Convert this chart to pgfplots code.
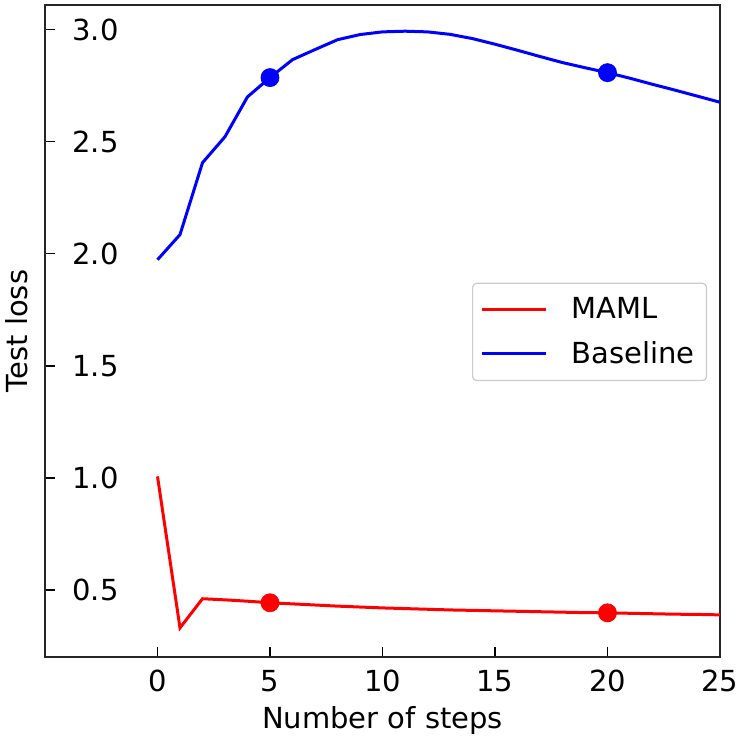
\documentclass[border=0pt]{standalone}
\usepackage{pgfplots}
\pgfplotsset{compat=1.18}
\usetikzlibrary{calc}
\usepackage{fontspec}
\setmainfont{DejaVu Sans}
\newcommand\f{\fontsize{14.5}{17}\selectfont}
\begin{document}
\begin{tikzpicture}
\begin{axis}[
  name=ax,
  scale only axis,
  width=337.5pt, height=326pt,
  xmin=-5, xmax=25, ymin=0.2, ymax=3.11,
  xtick={0,5,10,15,20,25},
  ytick={0.5,1.0,1.5,2.0,2.5,3.0},
  yticklabel style={/pgf/number format/fixed, /pgf/number format/fixed zerofill, /pgf/number format/precision=1, anchor=west, inner sep=0pt, xshift=13.5pt},
  xticklabel style={yshift=-3pt},
  /pgf/number format/assume math mode=true,
  tick label style={font=\f},
  label style={font=\f},
  tick align=inside,
  xtick pos=bottom, ytick pos=left,
  major tick length=5pt,
  tick style={black, line width=0.8pt},
  axis line style={black!85, line width=1pt},
  xlabel={Number of steps},
  ylabel={Test loss},
  xlabel style={at={(axis description cs:0.5,-0.1104)}, anchor=base},
  ylabel style={at={(axis description cs:-0.0252,0.5)}, anchor=base},
  legend style={at={(0.981,0.574)}, anchor=north east, draw=black!20, rounded corners=2pt, font=\f, line width=0.6pt, inner xsep=4pt, inner ysep=4pt, row sep=4pt, column sep=10pt, nodes={anchor=west, inner xsep=2pt, inner ysep=3pt}},
  legend cell align=left,
  legend image code/.code={\draw[#1, line width=1.5pt] (0pt,0pt) -- (32pt,0pt);},
  clip=false,
]
\addplot[red, line width=1.5pt] coordinates {
(0,1.006) (1,0.330) (2,0.460) (3,0.455) (4,0.449) (5,0.442) (6,0.437) (7,0.432) (8,0.427) (9,0.423) (10,0.419) (11,0.416) (12,0.413) (13,0.410) (14,0.408) (15,0.406) (16,0.404) (17,0.402) (18,0.400) (19,0.398) (20,0.397) (21,0.395) (22,0.393) (23,0.391) (24,0.390) (25,0.388)};
\addlegendentry{MAML}
\addplot[blue, line width=1.5pt] coordinates {
(0,1.973) (1,2.085) (2,2.406) (3,2.522) (4,2.700) (5,2.786) (6,2.866) (7,2.911) (8,2.955) (9,2.978) (10,2.990) (11,2.993) (12,2.990) (13,2.979) (14,2.960) (15,2.935) (16,2.908) (17,2.880) (18,2.853) (19,2.830) (20,2.808) (21,2.783) (22,2.756) (23,2.730) (24,2.703) (25,2.676)};
\addlegendentry{Baseline}
\addplot[red, only marks, mark=*, mark size=4.5pt, forget plot] coordinates {(5,0.442) (20,0.397)};
\addplot[blue, only marks, mark=*, mark size=4.5pt, forget plot] coordinates {(5,2.786) (20,2.808)};
\end{axis}
\pgfresetboundingbox
\path (ax.south west) ++(-22.5pt,-40pt) rectangle ($(ax.north east)+(10.5pt,2.5pt)$);
\end{tikzpicture}
\end{document}
